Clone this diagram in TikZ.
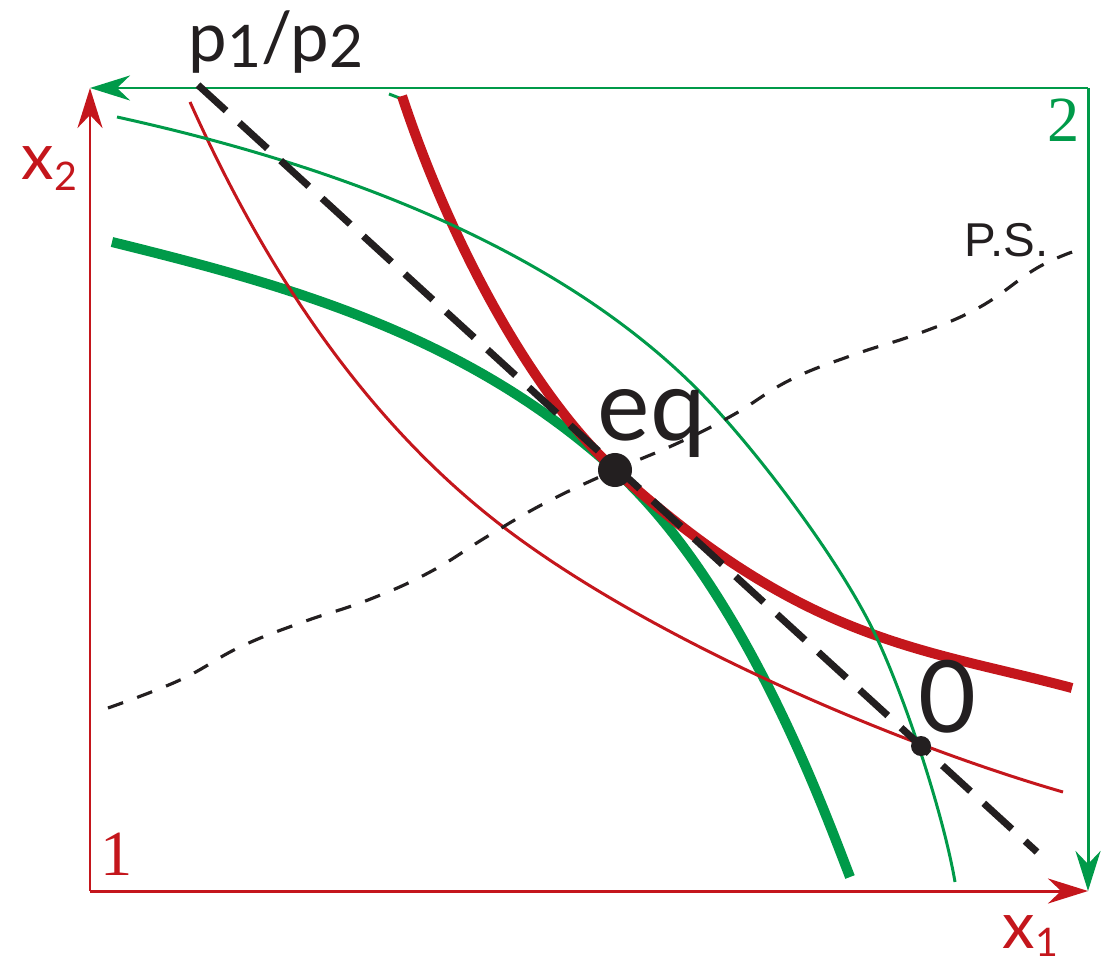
\documentclass[tikz,border=0pt]{standalone}
\usepackage{fontspec}
\usepackage{tikz}
\usetikzlibrary{arrows.meta}
\newfontfamily\labelfont{Lato}
\newfontfamily\psfont{Liberation Sans}
\newfontfamily\cornerfont{Liberation Serif}
\definecolor{indred}{HTML}{C4161C}
\definecolor{indgreen}{HTML}{009A49}
\definecolor{inkblack}{HTML}{231F20}
\newcommand{\lowdigit}[3]{\raisebox{-#2}{\fontsize{#1}{#1}\selectfont #3}}

\begin{document}
\begin{tikzpicture}[
  x=0.01cm, y=-0.01cm,
  every node/.style={inner sep=0pt, anchor=base west},
  axisred/.style={draw=indred, line width=0.85pt, -{Stealth[length=4mm, width=2.5mm]}},
  axisgreen/.style={draw=indgreen, line width=0.85pt, -{Stealth[length=4mm, width=2.5mm]}},
  thickred/.style={draw=indred, line width=2.85pt},
  thinred/.style={draw=indred, line width=0.85pt},
  thickgreen/.style={draw=indgreen, line width=2.85pt},
  thingreen/.style={draw=indgreen, line width=0.85pt},
  budget/.style={draw=inkblack, line width=2pt, dash pattern=on 0.38cm off 0.18cm},
  psline/.style={draw=inkblack, line width=0.9pt, dash pattern=on 0.16cm off 0.15cm},
  dot/.style={circle, fill=inkblack, anchor=center}
]
\useasboundingbox (0,0) rectangle (1110,961);
% Corners
\coordinate (O1) at (90,891);
\coordinate (O2) at (1088,88);
\coordinate (TL) at (90,88);
\coordinate (BR) at (1088,891);
% Axes
\draw[axisgreen] (O2) -- (TL);
\draw[axisgreen] (O2) -- (BR);
\draw[axisred] (O1) -- (TL);
\draw[axisred] (O1) -- (BR);
% Curves
\draw[thickgreen] (112,242) .. controls (282,284) and (465,333) .. (615,470)
  .. controls (745,589) and (825,813) .. (850,877);
\draw[thinred] (190,102) .. controls (260,258) and (360,420) .. (510,532)
  .. controls (660,644) and (900,745) .. (1063,792);
\draw[thingreen] (389,94) -- (402,99);
\draw[thickred] (402,96) .. controls (452,248) and (535,397) .. (615,470)
  .. controls (805,643) and (922,648) .. (1072,688);
\draw[thingreen] (117,117) .. controls (317,161) and (547,239) .. (697,389)
  .. controls (747,439) and (832,548) .. (872,628)
  .. controls (902,688) and (943,812) .. (955,882);
% Contract curve
\draw[psline] plot[smooth, tension=0.7] coordinates {(108,708) (180,680) (240,647)
  (303,622) (368,600) (430,572) (488,536) (547,502) (615,470) (678,443) (733,415)
  (790,380) (853,355) (920,333) (980,307) (1037,268) (1078,250)};
% Price line
\coordinate (pA) at (198,85);
\coordinate (pB) at (1037,852);
\draw[budget] (pA) -- (pB);
% Points
\node[dot, minimum size=0.34cm] (eq) at (615,470) {};
\node[dot, minimum size=0.2cm] (zero) at (921,746) {};
% Labels
\node[text=inkblack] (ratio) at (188,62) {\labelfont\fontsize{19.6pt}{20pt}\selectfont p\lowdigit{16.7pt}{1.7pt}{1}/p\lowdigit{16.7pt}{1.7pt}{2}};
\node[text=indred] (xtwo) at (21,180) {\labelfont\fontsize{18.5pt}{19pt}\selectfont x\lowdigit{11.2pt}{2.85pt}{2}};
\node[text=indred] (xone) at (1002,948) {\labelfont\fontsize{18.5pt}{19pt}\selectfont x\lowdigit{11.2pt}{2.3pt}{1}};
\node[text=inkblack] (eqlabel) at (597,440) {\labelfont\fontsize{28.2pt}{29pt}\selectfont eq};
\node[text=inkblack] (zerolabel) at (918,732) {\labelfont\fontsize{28.4pt}{29pt}\selectfont 0};
\node[text=inkblack] (pslabel) at (964,257) {\psfont\fontsize{13.5pt}{14pt}\selectfont P.S.};
\node[text=indgreen] (two) at (1047,142) {\cornerfont\fontsize{18.3pt}{19pt}\selectfont 2};
\node[text=indred] (one) at (100,875) {\cornerfont\fontsize{18.3pt}{19pt}\selectfont 1};
\end{tikzpicture}
\end{document}
